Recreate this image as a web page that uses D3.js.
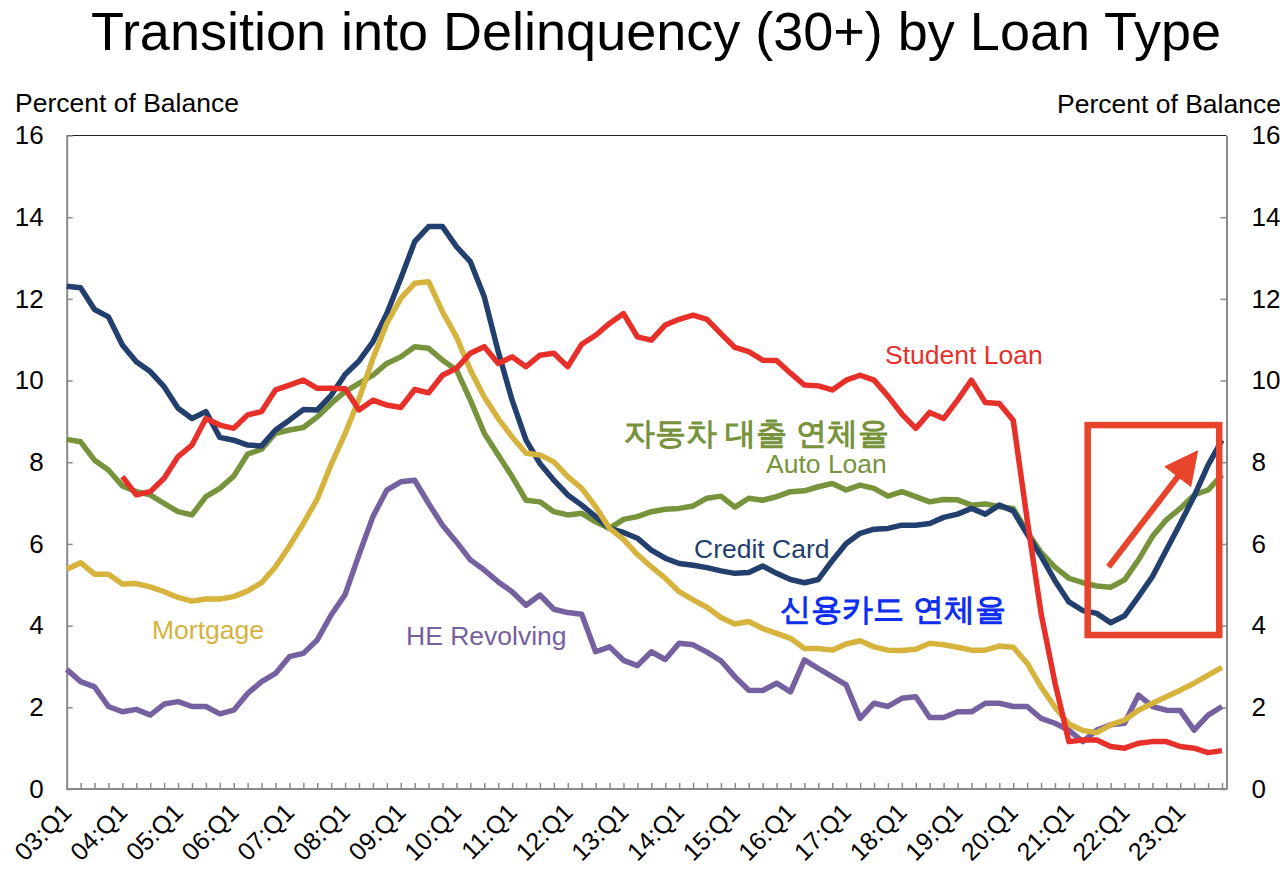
<!DOCTYPE html>
<html>
<head>
<meta charset="utf-8">
<script src="https://cdn.jsdelivr.net/npm/d3@7"></script>
<style>
  html, body { margin: 0; padding: 0; background: #fff; }
  svg text { font-family: "Liberation Sans", Arial, sans-serif; }
</style>
</head>
<body>
<div class="chart-area"></div>
<script>
// Transition into Delinquency (30+) by Loan Type, 03:Q1 - 23:Q4

// quarters 03:Q1 .. 23:Q4
const years = d3.range(3, 24).map(y => String(y).padStart(2, "0"));
const quarters = years.flatMap(y => ["Q1", "Q2", "Q3", "Q4"].map(q => `${y}:${q}`));

const yTicks = [0, 2, 4, 6, 8, 10, 12, 14, 16];

// percent of balance
const creditCard = [
  12.31, 12.27, 11.74, 11.56, 10.87, 10.46, 10.22, 9.85, 9.32, 9.07, 9.24, 8.61, 8.54, 8.42, 8.40, 8.79, 9.03, 9.29, 9.28, 9.64, 10.15, 10.48,
  10.95, 11.64, 12.50, 13.40, 13.77, 13.77, 13.28, 12.91, 12.05, 10.71, 9.52, 8.54, 7.97, 7.56, 7.20, 6.95, 6.67, 6.38,
  6.28, 6.14, 5.85, 5.65, 5.52, 5.48, 5.42, 5.34, 5.28, 5.30, 5.46, 5.28, 5.13, 5.05, 5.13, 5.59, 6.01, 6.26, 6.36, 6.38, 6.46, 6.46,
  6.50, 6.65, 6.73, 6.87, 6.73, 6.95, 6.81, 6.24, 5.70, 5.10, 4.58, 4.37, 4.30, 4.07, 4.24, 4.71, 5.20, 5.85, 6.50, 7.17, 7.93, 8.54
];
const autoLoan = [
  8.56, 8.50, 8.05, 7.81, 7.42, 7.28, 7.20, 6.99, 6.79, 6.71, 7.16, 7.36, 7.66, 8.20, 8.32, 8.71, 8.79, 8.85, 9.11, 9.44, 9.73, 9.93,
  10.13, 10.42, 10.58, 10.83, 10.79, 10.50, 10.26, 9.52, 8.71, 8.18, 7.65, 7.07, 7.03, 6.79, 6.71, 6.75, 6.54, 6.38,
  6.60, 6.67, 6.79, 6.85, 6.87, 6.93, 7.12, 7.17, 6.90, 7.12, 7.07, 7.16, 7.28, 7.30, 7.40, 7.48, 7.32, 7.44, 7.36, 7.17, 7.28, 7.16,
  7.03, 7.09, 7.08, 6.95, 6.98, 6.91, 6.87, 6.30, 5.79, 5.43, 5.16, 5.05, 4.97, 4.94, 5.12, 5.61, 6.18, 6.59, 6.87, 7.20, 7.32, 7.69
];
const mortgage = [
  5.38, 5.54, 5.26, 5.26, 5.02, 5.03, 4.95, 4.83, 4.69, 4.60, 4.65, 4.65, 4.71, 4.85, 5.05, 5.44, 5.95, 6.50, 7.10, 7.95, 8.70, 9.55,
  10.54, 11.40, 12.01, 12.38, 12.42, 11.68, 11.07, 10.26, 9.60, 9.07, 8.62, 8.22, 8.18, 8.01, 7.65, 7.36, 6.91, 6.38,
  6.11, 5.74, 5.44, 5.16, 4.83, 4.63, 4.45, 4.20, 4.04, 4.10, 3.93, 3.81, 3.69, 3.44, 3.44, 3.40, 3.55, 3.63, 3.48, 3.40, 3.39, 3.42,
  3.57, 3.53, 3.47, 3.40, 3.40, 3.50, 3.47, 3.08, 2.50, 2.00, 1.59, 1.43, 1.38, 1.57, 1.69, 1.93, 2.10, 2.26, 2.42, 2.59, 2.79, 2.98
];
const heRevolving = [
  2.93, 2.63, 2.50, 2.02, 1.89, 1.95, 1.81, 2.08, 2.14, 2.02, 2.02, 1.84, 1.93, 2.34, 2.63, 2.83, 3.24, 3.32, 3.65, 4.26, 4.76, 5.74,
  6.67, 7.32, 7.52, 7.56, 6.99, 6.46, 6.05, 5.61, 5.36, 5.07, 4.83, 4.50, 4.75, 4.40, 4.32, 4.28, 3.36, 3.48,
  3.15, 3.02, 3.36, 3.17, 3.57, 3.53, 3.35, 3.14, 2.75, 2.42, 2.41, 2.59, 2.38, 3.16, 2.95, 2.75, 2.55, 1.73, 2.10, 2.02, 2.22, 2.26,
  1.75, 1.75, 1.89, 1.89, 2.10, 2.10, 2.02, 2.02, 1.73, 1.61, 1.44, 1.16, 1.44, 1.57, 1.61, 2.30, 2.02, 1.93, 1.92, 1.44, 1.81, 2.02
];
// student loan series starts in 04:Q1
const studentLoan = [
  null, null, null, null,
  7.65, 7.20, 7.28, 7.61, 8.14, 8.42, 9.07, 8.91, 8.83, 9.16, 9.24, 9.77, 9.89, 10.01, 9.81, 9.81, 9.80, 9.28,
  9.52, 9.40, 9.34, 9.78, 9.70, 10.13, 10.30, 10.67, 10.83, 10.42, 10.58, 10.34, 10.62, 10.67, 10.34, 10.89, 11.11, 11.40,
  11.64, 11.07, 10.99, 11.36, 11.50, 11.60, 11.50, 11.15, 10.81, 10.71, 10.50, 10.49, 10.18, 9.89, 9.87, 9.77, 10.01, 10.13, 10.01, 9.62, 9.18, 8.83,
  9.22, 9.07, 9.52, 10.01, 9.46, 9.44, 9.03, 6.60, 4.30, 2.60, 1.16, 1.20, 1.20, 1.04, 1.00, 1.12, 1.16, 1.16, 1.04, 1.00, 0.89, 0.94
];

const series = [
  { name: "HE Revolving", values: heRevolving, color: "#7661a0" },
  { name: "Auto Loan", values: autoLoan, color: "#77933c" },
  { name: "Credit Card", values: creditCard, color: "#233f6e" },
  { name: "Mortgage", values: mortgage, color: "#d5b33d" },
  { name: "Student Loan", values: studentLoan, color: "#e8302a" }
];

const W = 1280, H = 889;
const plot = { left: 66.7, right: 1222, axisRight: 1226.5, top: 135.5, bottom: 789 };

const svg = d3.select(".chart-area")
  .append("svg")
  .attr("width", W)
  .attr("height", H);

const x = d3.scalePoint().domain(quarters).range([plot.left, plot.right]);
// same positions by quarter index, for annotations
const xi = d3.scaleLinear().domain([0, quarters.length - 1]).range([plot.left, plot.right]);
const y = d3.scaleLinear().domain([0, 16]).range([plot.bottom, plot.top]);

// Title
svg.append("text")
  .attr("x", 656).attr("y", 50)
  .attr("text-anchor", "middle")
  .attr("font-size", 54)
  .attr("fill", "#000")
  .text("Transition into Delinquency (30+) by Loan Type");

svg.append("text")
  .attr("x", 15).attr("y", 112)
  .attr("font-size", 26.5)
  .text("Percent of Balance");
svg.append("text")
  .attr("x", 1057).attr("y", 113)
  .attr("font-size", 26.5)
  .text("Percent of Balance");

// frame top line
svg.append("line")
  .attr("x1", plot.left).attr("x2", plot.axisRight)
  .attr("y1", plot.top).attr("y2", plot.top)
  .attr("stroke", "#222").attr("stroke-width", 1);

// Axes
const axisColor = "#8a8a8a";
function styleAxis(g, size) {
  g.select(".domain").attr("stroke", axisColor).attr("stroke-width", 2);
  g.selectAll(".tick line").attr("stroke", axisColor).attr("stroke-width", 1.5);
  g.selectAll(".tick text").attr("fill", "#000").attr("font-size", size)
    .attr("font-family", '"Liberation Sans", Arial, sans-serif');
}

const yLeft = svg.append("g")
  .attr("transform", `translate(${plot.left},0)`)
  .call(d3.axisLeft(y).tickValues(yTicks).tickSize(-6).tickPadding(23).tickSizeOuter(0));
styleAxis(yLeft, 26);

const yRight = svg.append("g")
  .attr("transform", `translate(${plot.axisRight},0)`)
  .call(d3.axisRight(y).tickValues(yTicks).tickSize(-6).tickPadding(25).tickSizeOuter(0));
styleAxis(yRight, 26);
yRight.selectAll(".tick").filter(d => d === 16).select("line").remove();

const xAxis = svg.append("g")
  .attr("transform", `translate(0,${plot.bottom})`)
  .call(d3.axisBottom(x).tickSize(-6).tickSizeOuter(0)
    .tickFormat(d => d.endsWith("Q1") ? d : ""));
styleAxis(xAxis, 25);
xAxis.select(".domain").attr("d", `M${plot.left},0H${plot.axisRight}`);
xAxis.selectAll(".tick").filter(d => d === quarters[0]).select("line").remove();
xAxis.selectAll(".tick text")
  .attr("text-anchor", "end")
  .attr("dy", null)
  .attr("y", 0)
  .attr("transform", "translate(6,25) rotate(-45)");

// Lines
const line = d3.line()
  .defined(d => d.v != null)
  .x(d => x(d.q))
  .y(d => y(d.v));

svg.append("g")
  .selectAll("path")
  .data(series)
  .join("path")
  .attr("fill", "none")
  .attr("stroke", d => d.color)
  .attr("stroke-width", 5.5)
  .attr("stroke-linejoin", "round")
  .attr("d", d => line(d.values.map((v, i) => ({ q: quarters[i], v }))));

// Series labels
const labels = [
  { text: "Student Loan", x: 885, y: 364, color: "#e8302a" },
  { text: "Auto Loan", x: 766, y: 473, color: "#77933c" },
  { text: "Credit Card", x: 694, y: 558, color: "#233f6e" },
  { text: "Mortgage", x: 152, y: 639, color: "#d5b33d" },
  { text: "HE Revolving", x: 406, y: 645, color: "#7661a0" }
];
svg.append("g")
  .selectAll("text")
  .data(labels)
  .join("text")
  .attr("x", d => d.x).attr("y", d => d.y)
  .attr("font-size", 26.5)
  .attr("fill", d => d.color)
  .text(d => d.text);

// Korean notes
const notes = [
  { text: "자동차 대출 연체율", x: 624, y: 444, size: 30.5, color: "#77933c" },
  { text: "신용카드 연체율", x: 780, y: 620, size: 31, color: "#0f2ff0" }
];
svg.append("g")
  .selectAll("text")
  .data(notes)
  .join("text")
  .attr("x", d => d.x).attr("y", d => d.y)
  .attr("font-size", d => d.size)
  .attr("font-weight", "bold")
  .attr("font-family", '"Noto Sans CJK KR", "Noto Sans", sans-serif')
  .attr("fill", d => d.color)
  .text(d => d.text);

// Highlight box and arrow (quarter index / percent)
const boxSpan = { i0: 73.35, i1: 82.8, v0: 3.77, v1: 8.91 };
const arrowSpan = { i0: 74.85, v0: 5.44, i1: 81.3, v1: 8.30 };
const accent = "#e8432b";

svg.append("rect")
  .attr("x", xi(boxSpan.i0)).attr("y", y(boxSpan.v1))
  .attr("width", xi(boxSpan.i1) - xi(boxSpan.i0))
  .attr("height", y(boxSpan.v0) - y(boxSpan.v1))
  .attr("fill", "none")
  .attr("stroke", accent)
  .attr("stroke-width", 6.5);

const ax0 = xi(arrowSpan.i0), ay0 = y(arrowSpan.v0);
const ax1 = xi(arrowSpan.i1), ay1 = y(arrowSpan.v1);
const ang = Math.atan2(ay1 - ay0, ax1 - ax0);
const headLen = 34, headHalf = 17;
const bx = ax1 - headLen * Math.cos(ang), by = ay1 - headLen * Math.sin(ang);

svg.append("line")
  .attr("x1", ax0).attr("y1", ay0)
  .attr("x2", bx + 4 * Math.cos(ang)).attr("y2", by + 4 * Math.sin(ang))
  .attr("stroke", accent)
  .attr("stroke-width", 6);

svg.append("path")
  .attr("d", `M${ax1},${ay1}L${bx - headHalf * Math.sin(ang)},${by + headHalf * Math.cos(ang)}L${bx + headHalf * Math.sin(ang)},${by - headHalf * Math.cos(ang)}Z`)
  .attr("fill", accent);
</script>
</body>
</html>
